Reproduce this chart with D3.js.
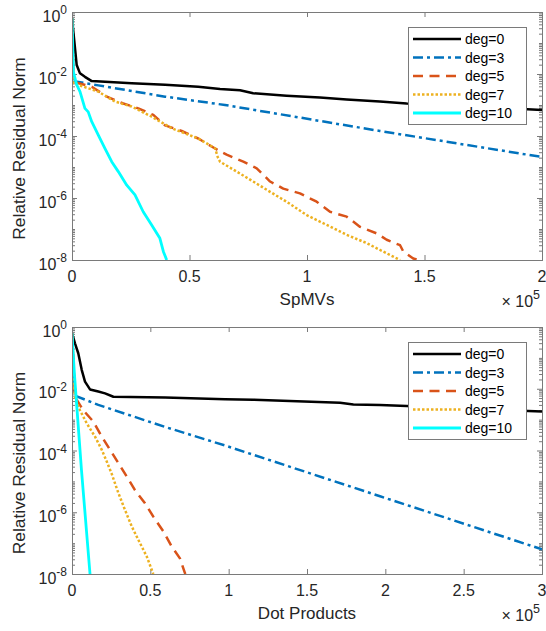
<!DOCTYPE html>
<html><head><meta charset="utf-8">
<script src="https://cdn.jsdelivr.net/npm/d3@7"></script>
<style>body{margin:0;background:#fff;} svg{display:block;font-family:"Liberation Sans",Arial,sans-serif;}</style>
</head><body><svg id="c" width="546" height="631"></svg>
<script>
// ---------- data ----------
const seriesNames = ["deg=0","deg=3","deg=5","deg=7","deg=10"];
const seriesColors = ["#000000","#0072BD","#D95319","#EDB120","#00FFFF"];
const seriesDash = ["none","10,4,3,4","10,6.5","2.5,2","none"];
const seriesWidth = [2.5,2.5,2.5,2.5,2.8];

const yTickExps = [0,-2,-4,-6,-8];
const spmvTicks = [0,50000,100000,150000,200000];
const spmvTickLabels = ["0","0.5","1","1.5","2"];
const dotTicks = [0,50000,100000,150000,200000,250000,300000];
const dotTickLabels = ["0","0.5","1","1.5","2","2.5","3"];

// SpMVs panel
const spmvX0 = [0,2000,3400,5500,8400,25400,39600,53700,63000,71500,77100,91300,105500,116900,131000,142400,200000];
const spmvY0 = [6.3e-1,1.95e-2,1.05e-2,8.1e-3,5.9e-3,5.0e-3,4.5e-3,3.9e-3,3.3e-3,3.0e-3,2.4e-3,2.0e-3,1.74e-3,1.51e-3,1.29e-3,1.12e-3,6.9e-4];
const spmvX3 = [0,600,11200,39600,65100,131000,200000];
const spmvY3 = [6.3e-1,5.9e-3,4.3e-3,1.86e-3,1.0e-3,1.45e-4,2.1e-5];
const spmvX5 = [0,600,8400,14800,21800,28200,34600,39600,46700,53700,59400,63000,65800,72900,78600,84300,89900,97000,104100,109800,116900,122600,129700,133900,139600,141000,145200,147400];
const spmvY5 = [6.3e-1,5.6e-3,3.9e-3,1.86e-3,1.12e-3,7.8e-4,4.8e-4,2.2e-4,1.45e-4,8.3e-5,4.6e-5,3.2e-5,2.5e-5,1.48e-5,9.1e-6,3.4e-6,2.0e-6,1.41e-6,7.6e-7,3.6e-7,2.5e-7,1.17e-7,7.2e-8,4.5e-8,3.0e-8,1.86e-8,1.12e-8,1.0e-8];
const spmvX7 = [0,600,11200,18300,25400,33900,42400,53700,60900,62000,63000,70100,77100,84300,91300,99900,108400,116900,125400,131100,139600];
const spmvY7 = [6.3e-1,5.0e-3,2.7e-3,1.29e-3,8.9e-4,4.2e-4,1.78e-4,8.3e-5,4.0e-5,2.1e-5,1.48e-5,7.1e-6,3.4e-6,1.58e-6,7.6e-7,2.8e-7,1.35e-7,6.5e-8,3.5e-8,2.1e-8,1.0e-8];
const spmvX10 = [0,600,2000,3400,5500,6900,8400,11200,14000,16900,19700,23300,26800,30300,33900,37400,38900,40300];
const spmvY10 = [6.3e-1,1.17e-2,4.5e-3,2.7e-3,7.8e-4,6.0e-4,2.9e-4,1.07e-4,4.0e-5,1.48e-5,7.1e-6,2.6e-6,1.26e-6,3.6e-7,1.35e-7,5.0e-8,1.86e-8,1.0e-8];

// Dot products panel
const dotX0 = [0,1900,4000,6200,8300,11500,16800,21100,26400,59400,97700,115700,171100,179600,196600,213600,300000];
const dotY0 = [6.3e-1,2.95e-1,1.41e-1,4.1e-2,1.7e-2,9.5e-3,8.1e-3,7.1e-3,5.5e-3,5.2e-3,4.6e-3,4.4e-3,3.5e-3,3.1e-3,2.95e-3,2.75e-3,1.82e-3];
const dotX3 = [0,1900,16800,38100,59400,97700,196600,300000];
const dotY3 = [6.3e-1,6.0e-3,3.0e-3,1.32e-3,5.8e-4,1.45e-4,3.3e-6,6.3e-8];
const dotX5 = [0,1900,7200,13600,19000,24300,29600,34900,40200,46600,51900,58300,63600,68900,72100,72500];
const dotY5 = [6.3e-1,5.5e-3,2.0e-3,8.7e-4,2.8e-4,1.05e-4,3.9e-5,1.45e-5,5.2e-6,1.95e-6,7.2e-7,2.4e-7,7.8e-8,3.2e-8,1.07e-8,1.0e-8];
const dotX7 = [0,1900,5100,9400,14700,19000,22100,25300,29600,33800,38100,42300,47700,51900];
const dotY7 = [6.3e-1,4.9e-3,2.0e-3,7.6e-4,2.8e-4,1.05e-4,4.5e-5,1.78e-5,4.2e-6,1.2e-6,3.5e-7,1.29e-7,3.7e-8,1.0e-8];
const dotX10 = [0,1500,6000,11500];
const dotY10 = [6.3e-1,3.2e-2,2.5e-5,1.0e-8];

// ---------- layout ----------
const L = 72, R = 542;
const panels = [
  {top:12, bottom:260, xMax:2e5, ticks:spmvTicks, tickLabels:spmvTickLabels, xLabel:"SpMVs",
   xs:[spmvX0,spmvX3,spmvX5,spmvX7,spmvX10], ys:[spmvY0,spmvY3,spmvY5,spmvY7,spmvY10]},
  {top:327, bottom:574, xMax:3e5, ticks:dotTicks, tickLabels:dotTickLabels, xLabel:"Dot Products",
   xs:[dotX0,dotX3,dotX5,dotX7,dotX10], ys:[dotY0,dotY3,dotY5,dotY7,dotY10]}
];
const axisCol = "#262626", boxCol = "#7a7a7a";
const svg = d3.select("#c");
const defs = svg.append("defs");

panels.forEach((p, pi) => {
  const x = d3.scaleLinear().domain([0, p.xMax]).range([L, R]);
  const y = d3.scaleLog().domain([1e-8, 1]).range([p.bottom, p.top]);
  const g = svg.append("g");
  const cid = "clip" + pi;
  defs.append("clipPath").attr("id", cid).append("rect")
    .attr("x", L).attr("y", p.top).attr("width", R - L).attr("height", p.bottom - p.top);

  const major = yTickExps.map(e => Math.pow(10, e));
  const minor = [];
  for (let e = -8; e < 0; e++) for (let m = 1; m < 10; m++) {
    if (m === 1 && e % 2 === 0) continue;
    minor.push(m * Math.pow(10, e));
  }
  const strip = s => s.select(".domain").remove();
  const addAxis = (ax, tx, ty) => g.append("g").attr("transform", `translate(${tx},${ty})`)
      .attr("color", boxCol).call(ax).call(strip);
  addAxis(d3.axisBottom(x).tickValues(p.ticks).tickSize(-5).tickFormat(""), 0, p.bottom);
  addAxis(d3.axisTop(x).tickValues(p.ticks).tickSize(-5).tickFormat(""), 0, p.top);
  addAxis(d3.axisLeft(y).tickValues(major).tickSize(-5).tickFormat(""), L, 0);
  addAxis(d3.axisLeft(y).tickValues(minor).tickSize(-3).tickFormat(""), L, 0);
  addAxis(d3.axisRight(y).tickValues(major).tickSize(-5).tickFormat(""), R, 0);
  addAxis(d3.axisRight(y).tickValues(minor).tickSize(-3).tickFormat(""), R, 0);

  // lines
  const line = d3.line().x(d => x(d[0])).y(d => y(d[1]));
  p.xs.forEach((xs, i) => {
    const pts = xs.map((v, j) => [v, p.ys[i][j]]);
    g.append("path").attr("clip-path", `url(#${cid})`).attr("d", line(pts))
      .attr("fill", "none").attr("stroke", seriesColors[i]).attr("stroke-width", seriesWidth[i])
      .attr("stroke-dasharray", seriesDash[i]).attr("stroke-linejoin", "round");
  });

  // box
  g.append("rect").attr("x", L + 0.5).attr("y", p.top + 0.5).attr("width", R - L).attr("height", p.bottom - p.top)
    .attr("fill", "none").attr("stroke", boxCol).attr("stroke-width", 1);

  // x tick labels
  p.ticks.forEach((v, i) => {
    g.append("text").attr("x", x(v)).attr("y", p.bottom + 22).attr("text-anchor", "middle")
      .attr("font-size", 16).attr("fill", axisCol).text(p.tickLabels[i]);
  });
  // y tick labels
  yTickExps.forEach(e => {
    const t = g.append("text").attr("x", 67).attr("y", y(Math.pow(10, e)) + 9.5)
      .attr("text-anchor", "end").attr("font-size", 16).attr("fill", axisCol);
    t.append("tspan").text("10");
    t.append("tspan").attr("dy", -7.5).attr("font-size", 12).text(String(e));
  });
  // x label
  g.append("text").attr("x", (L + R) / 2).attr("y", p.bottom + 45).attr("text-anchor", "middle")
    .attr("font-size", 17).attr("fill", axisCol).text(p.xLabel);
  // exponent
  const ex = g.append("text").attr("x", 540).attr("y", p.bottom + 47).attr("text-anchor", "end")
    .attr("font-size", 16).attr("fill", axisCol);
  ex.append("tspan").text("\u00d7 10");
  ex.append("tspan").attr("dy", -8).attr("font-size", 12.5).text("5");
  // y label
  g.append("text").attr("transform", `translate(25,${(p.top + p.bottom) / 2 + 12.5}) rotate(-90)`)
    .attr("text-anchor", "middle").attr("font-size", 17.4).attr("fill", axisCol).text("Relative Residual Norm");

  // legend
  const lg = g.append("g");
  lg.append("rect").attr("x", 408.5).attr("y", p.top + 15.5).attr("width", 118).attr("height", 97)
    .attr("fill", "#fff").attr("stroke", boxCol).attr("stroke-width", 1);
  seriesNames.forEach((n, i) => {
    const ry = p.top + 27 + i * 18.5;
    lg.append("line").attr("x1", 413).attr("x2", 461).attr("y1", ry).attr("y2", ry)
      .attr("stroke", seriesColors[i]).attr("stroke-width", seriesWidth[i]).attr("stroke-dasharray", seriesDash[i]);
    lg.append("text").attr("x", 465).attr("y", ry + 5).attr("font-size", 14).attr("fill", "#000").text(n);
  });
});
</script></body></html>
